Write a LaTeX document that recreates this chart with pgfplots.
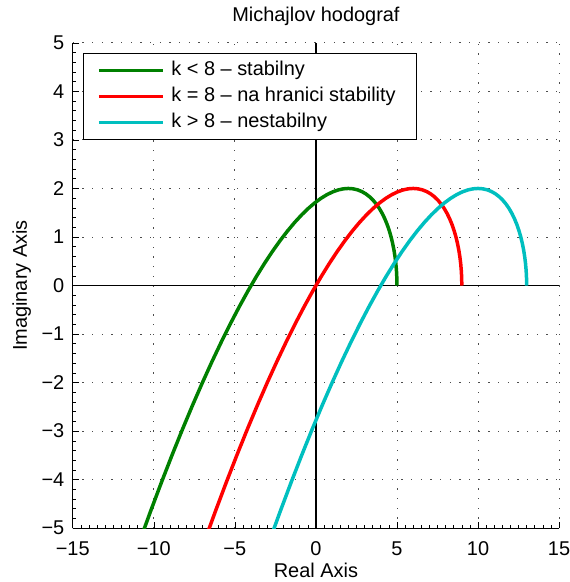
\documentclass[border=0pt]{standalone}
\usepackage{fontspec}
\setmainfont{Liberation Sans}
\usepackage{pgfplots}
\usepackage{pgfplotstable}
\pgfplotsset{compat=1.18}
\definecolor{mgreen}{rgb}{0,0.5,0}
\definecolor{mred}{rgb}{1,0,0}
\definecolor{mcyan}{rgb}{0,0.75,0.75}

\pgfplotstableread{
x y
5 0
4.9925 0.1499
4.97 0.299
4.9325 0.4466
4.88 0.592
4.8125 0.7344
4.73 0.873
4.6325 1.0071
4.52 1.136
4.3925 1.2589
4.25 1.375
4.0925 1.4836
3.92 1.584
3.7325 1.6754
3.53 1.757
3.3125 1.8281
3.08 1.888
2.8325 1.9359
2.57 1.971
2.2925 1.9926
2 2
1.6925 1.9924
1.37 1.969
1.0325 1.9291
0.68 1.872
0.3125 1.7969
-0.07 1.703
-0.4675 1.5896
-0.88 1.456
-1.3075 1.3014
-1.75 1.125
-2.2075 0.9261
-2.68 0.704
-3.1675 0.4579
-3.67 0.187
-4.1875 -0.1094
-4.72 -0.432
-5.2675 -0.7816
-5.83 -1.159
-6.4075 -1.5649
-7 -2
-7.6075 -2.4651
-8.23 -2.961
-8.8675 -3.4884
-9.52 -4.048
-10.1875 -4.6406
-10.87 -5.267
}\greentab

\pgfplotstableread{
x y
9 0
8.9925 0.1499
8.97 0.299
8.9325 0.4466
8.88 0.592
8.8125 0.7344
8.73 0.873
8.6325 1.0071
8.52 1.136
8.3925 1.2589
8.25 1.375
8.0925 1.4836
7.92 1.584
7.7325 1.6754
7.53 1.757
7.3125 1.8281
7.08 1.888
6.8325 1.9359
6.57 1.971
6.2925 1.9926
6 2
5.6925 1.9924
5.37 1.969
5.0325 1.9291
4.68 1.872
4.3125 1.7969
3.93 1.703
3.5325 1.5896
3.12 1.456
2.6925 1.3014
2.25 1.125
1.7925 0.9261
1.32 0.704
0.8325 0.4579
0.33 0.187
-0.1875 -0.1094
-0.72 -0.432
-1.2675 -0.7816
-1.83 -1.159
-2.4075 -1.5649
-3 -2
-3.6075 -2.4651
-4.23 -2.961
-4.8675 -3.4884
-5.52 -4.048
-6.1875 -4.6406
-6.87 -5.267
}\redtab

\pgfplotstableread{
x y
13 0
12.9925 0.1499
12.97 0.299
12.9325 0.4466
12.88 0.592
12.8125 0.7344
12.73 0.873
12.6325 1.0071
12.52 1.136
12.3925 1.2589
12.25 1.375
12.0925 1.4836
11.92 1.584
11.7325 1.6754
11.53 1.757
11.3125 1.8281
11.08 1.888
10.8325 1.9359
10.57 1.971
10.2925 1.9926
10 2
9.6925 1.9924
9.37 1.969
9.0325 1.9291
8.68 1.872
8.3125 1.7969
7.93 1.703
7.5325 1.5896
7.12 1.456
6.6925 1.3014
6.25 1.125
5.7925 0.9261
5.32 0.704
4.8325 0.4579
4.33 0.187
3.8125 -0.1094
3.28 -0.432
2.7325 -0.7816
2.17 -1.159
1.5925 -1.5649
1 -2
0.3925 -2.4651
-0.23 -2.961
-0.8675 -3.4884
-1.52 -4.048
-2.1875 -4.6406
-2.87 -5.267
}\cyantab

\newcommand{\ff}{\fontsize{20}{24}\selectfont}

\begin{document}
\begin{tikzpicture}
\begin{axis}[
  scale only axis, width=488pt, height=487pt,
  xmin=-15, xmax=15, ymin=-5, ymax=5,
  axis x line*=bottom, axis y line*=left,
  axis line style={black, line width=0.9pt},
  xtick={-15,-10,-5,0,5,10,15},
  ytick={-5,-4,-3,-2,-1,0,1,2,3,4,5},
  xticklabels={−15,−10,−5,0,5,10,15},
  yticklabels={−5,−4,−3,−2,−1,0,1,2,3,4,5},
  minor x tick num=9, minor y tick num=4,
  tick align=inside, major tick length=6pt, minor tick length=3pt,
  tick style={black, line width=0.6pt},
  grid=major,
  major grid style={black!70, line width=0.9pt, dash pattern=on 1.2pt off 8.5pt},
  ticklabel style={font=\ff},
  xticklabel style={yshift=-10pt},
  yticklabel style={xshift=-5pt},
  title={Michajlov hodograf},
  title style={font=\ff, at={(axis description cs:0.5,1.0308)}, anchor=base},
  xlabel={Real Axis},
  xlabel style={font=\ff, at={(axis description cs:0.5,-0.1007)}, anchor=base},
  ylabel={Imaginary Axis},
  ylabel style={font=\ff, at={(axis description cs:-0.0943,0.5)}, anchor=base},
  legend cell align=left,
  legend image code/.code={\draw[#1, line width=3.5pt] (0pt,0pt) -- (64pt,0pt);},
  legend style={at={(axis description cs:0.0205,0.9795)}, anchor=north west,
    draw=black, line width=0.9pt, fill=white, font=\ff,
    inner xsep=14pt, inner ysep=4.5pt, row sep=0pt, column sep=7pt,
    nodes={inner xsep=0pt, inner ysep=4pt, text height=14pt, text depth=4pt}},
]
\addplot[black, line width=1.6pt, forget plot] coordinates {(-15,0) (15,0)};
\addplot[black, line width=1.6pt, forget plot] coordinates {(0,-5) (0,5)};
\addplot[mgreen, line width=3.5pt, line join=round] table[x=x,y=y] {\greentab};
\addlegendentry{\makebox[232pt][l]{k < 8 – stabilny}}
\addplot[mred, line width=3.5pt, line join=round] table[x=x,y=y] {\redtab};
\addlegendentry{\makebox[232pt][l]{k = 8 – na hranici stability}}
\addplot[mcyan, line width=3.5pt, line join=round] table[x=x,y=y] {\cyantab};
\addlegendentry{\makebox[232pt][l]{k > 8 – nestabilny}}
\end{axis}
\pgfresetboundingbox
\path ([shift={(-73pt,-54pt)}]current axis.south west) rectangle ([shift={(10pt,43pt)}]current axis.north east);
\end{tikzpicture}
\end{document}
